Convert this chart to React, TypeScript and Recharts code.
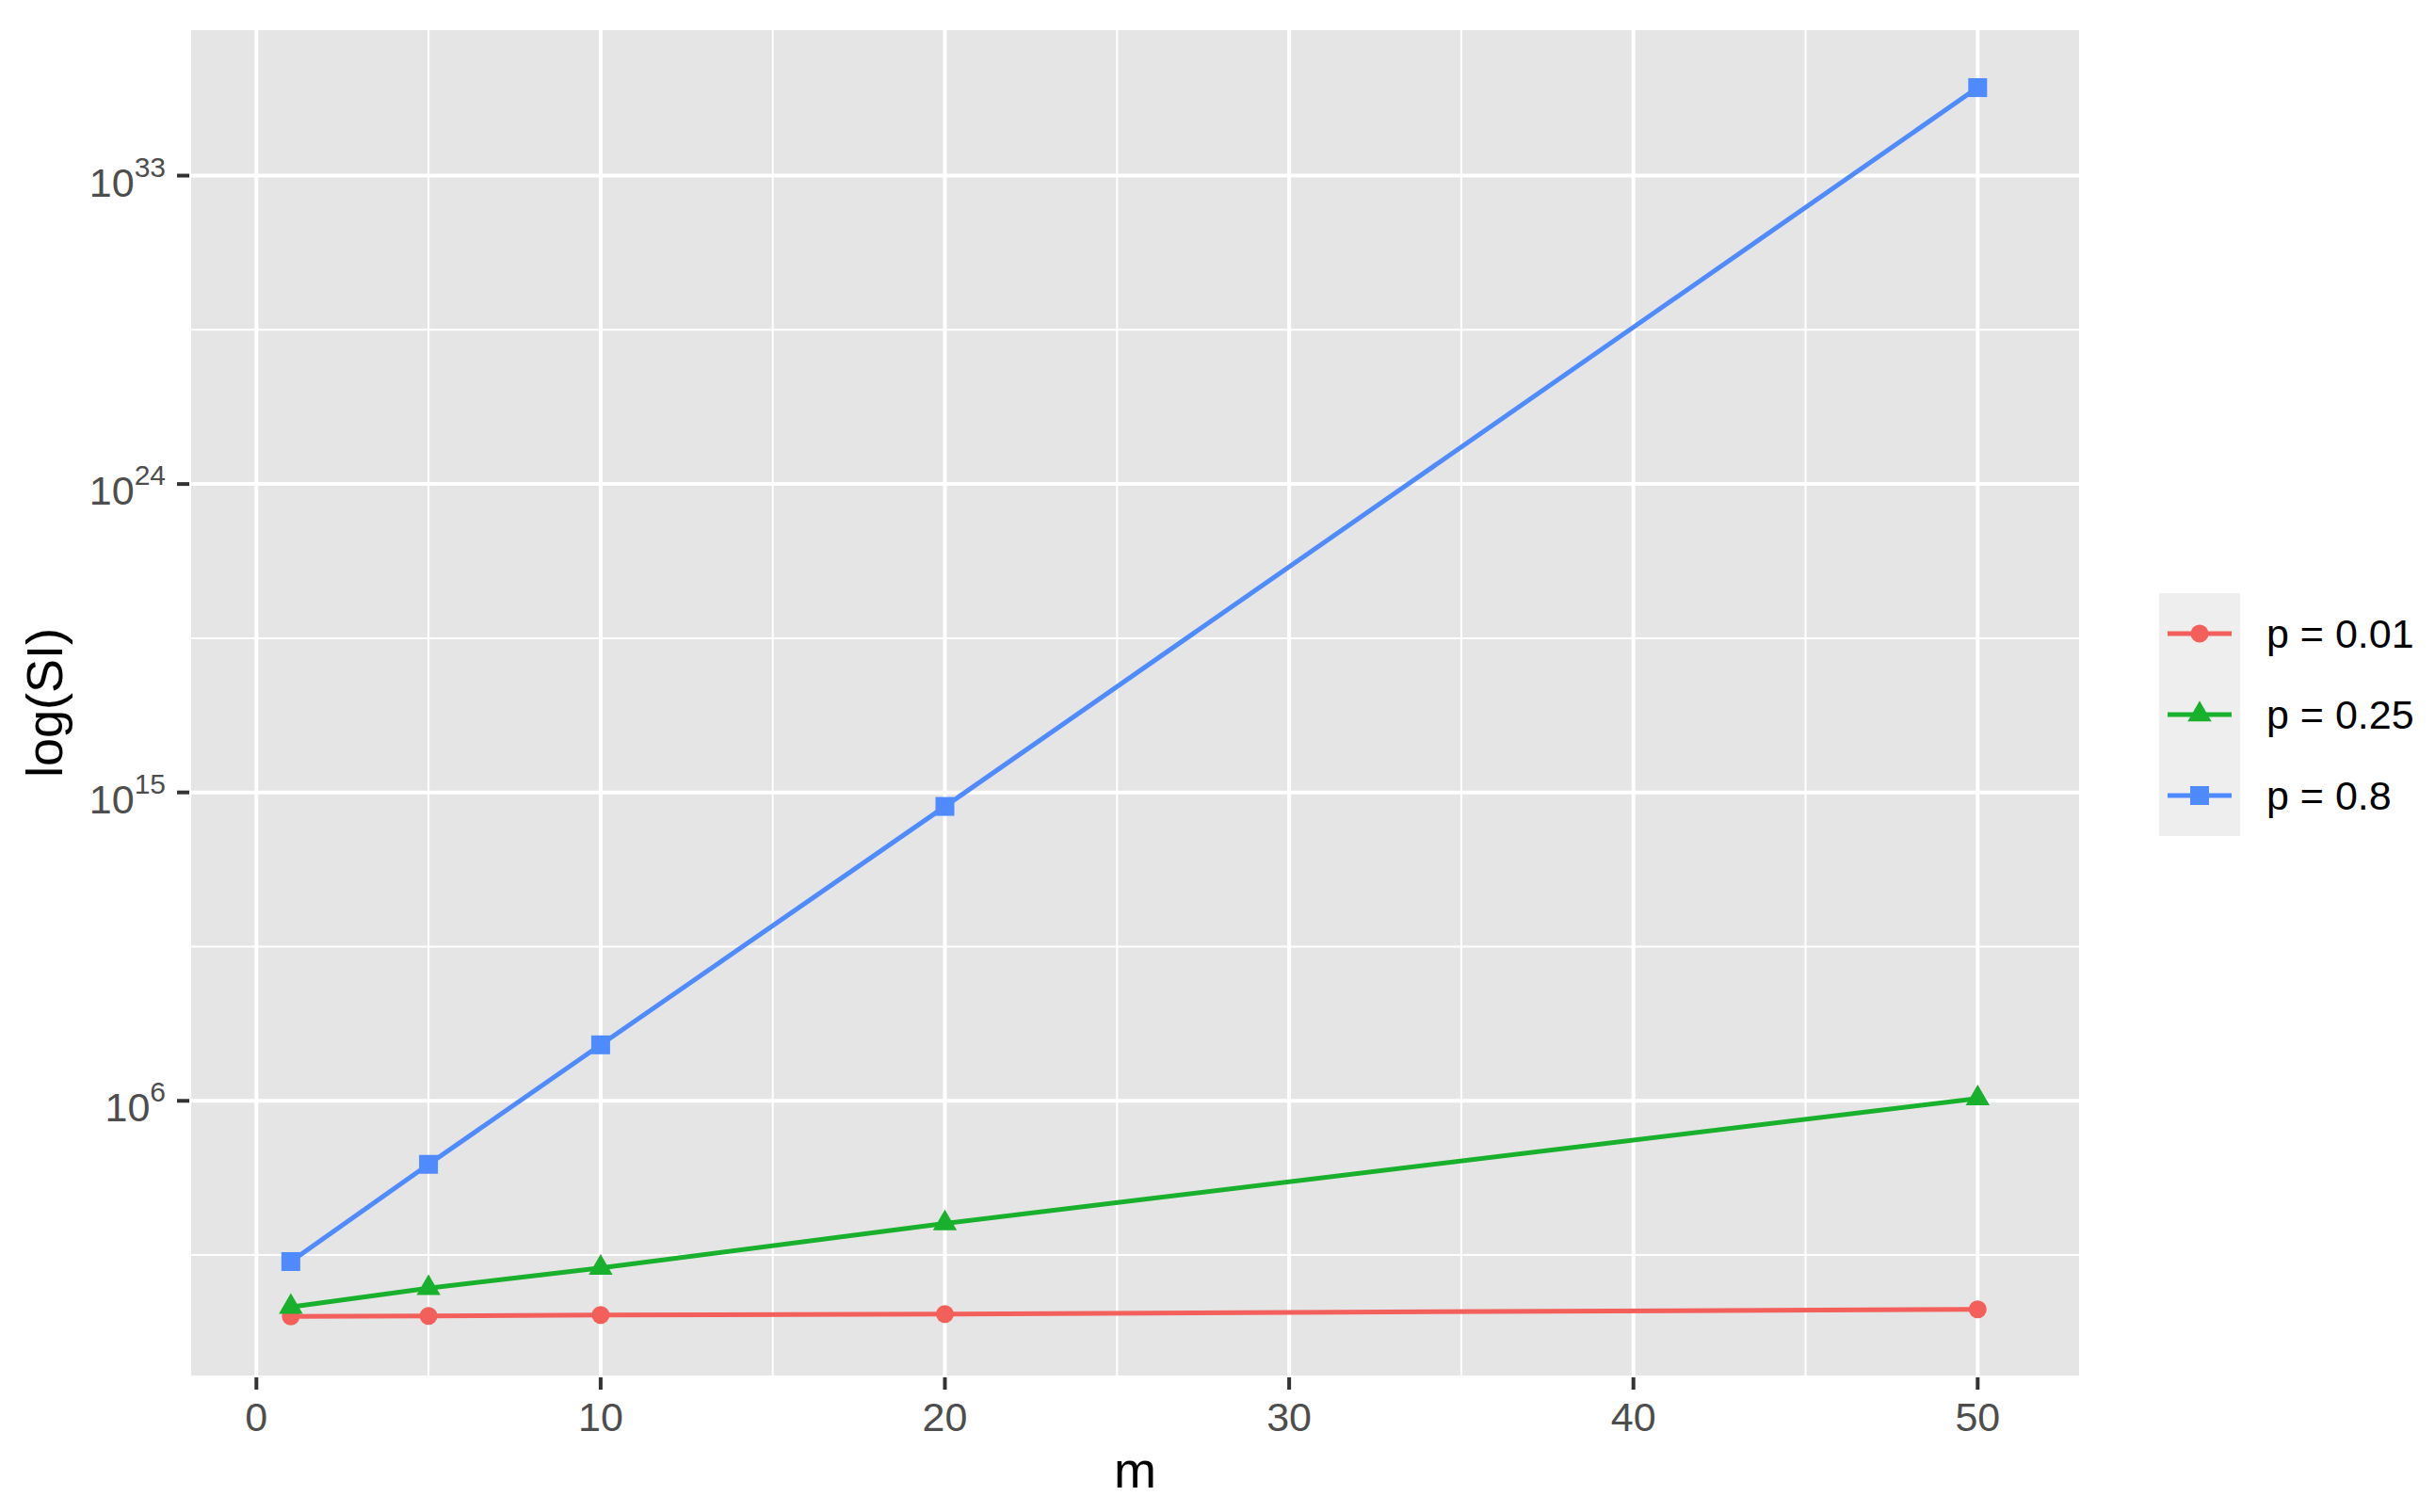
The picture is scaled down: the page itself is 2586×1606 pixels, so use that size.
import React from 'react';
import { LineChart, Line, XAxis, YAxis, CartesianGrid, ReferenceLine } from 'recharts';

const FONT = '"Liberation Sans", Arial, Helvetica, sans-serif';

// m values on the x axis
const mValues = [1, 5, 10, 20, 50];

const siP001 = [0.51, 0.53, 0.56, 0.6, 0.82];
const siP025 = [0.96, 3.4, 13.3, 265, 1.17e6];
const siP08 = [20.4, 1.4e4, 4.3e7, 3.9e14, 3.7e35];

const xTicks = [0, 10, 20, 30, 40, 50];
const xMinor = [5, 15, 25, 35, 45];
const yTicks = [1e6, 1e15, 1e24, 1e33];
const yMinor = [3.16e1, 3.16e10, 3.16e19, 3.16e28];

const seriesNames = ['p = 0.01', 'p = 0.25', 'p = 0.8'];
const seriesKeys = ['p001', 'p025', 'p08'];
const seriesColors = ['#F35F5B', '#19B02D', '#4F8AFE'];
const seriesShapes = ['circle', 'triangle', 'square'];

const data = mValues.map((m, i) => ({
  m,
  p001: siP001[i],
  p025: siP025[i],
  p08: siP08[i],
}));

function Marker({ shape, cx, cy, color }: { shape: string; cx: number; cy: number; color: string }) {
  if (shape === 'circle') return <circle cx={cx} cy={cy} r={9.5} fill={color} />;
  if (shape === 'square') return <rect x={cx - 10} y={cy - 10} width={20} height={20} fill={color} />;
  return (
    <polygon
      points={`${cx},${cy - 14.7} ${cx + 12.7},${cy + 7.3} ${cx - 12.7},${cy + 7.3}`}
      fill={color}
    />
  );
}

const makeDot = (shape: string, color: string) => (props: any) => {
  const { cx, cy, index } = props;
  if (cx == null || cy == null) return <g key={index} />;
  return <Marker key={index} shape={shape} cx={cx} cy={cy} color={color} />;
};

function PowerTick(props: any) {
  const { x, y, payload } = props;
  const exp = Math.round(Math.log10(payload.value));
  return (
    <text x={x} y={y} textAnchor="end" fill="#4D4D4D" fontFamily={FONT}>
      <tspan dy={22} fontSize={43}>10</tspan>
      <tspan dy={-21} fontSize={30}>{exp}</tspan>
    </text>
  );
}

function LegendBox() {
  return (
    <div style={{ position: 'absolute', left: 2293, top: 630, fontFamily: FONT }}>
      {seriesNames.map((name, i) => (
        <div key={name} style={{ display: 'flex', alignItems: 'center', height: 86 }}>
          <svg width={86} height={86} style={{ background: '#EEEEEE', display: 'block' }}>
            <line x1={9} x2={77} y1={43} y2={43} stroke={seriesColors[i]} strokeWidth={5} />
            <Marker shape={seriesShapes[i]} cx={43} cy={43} color={seriesColors[i]} />
          </svg>
          <span style={{ marginLeft: 28, fontSize: 43, color: '#000', whiteSpace: 'nowrap' }}>{name}</span>
        </div>
      ))}
    </div>
  );
}

export default function App() {
  return (
    <div style={{ position: 'absolute', left: 0, top: 0, width: 2586, height: 1606, background: '#fff' }}>
      <LineChart width={2586} height={1606} data={data} margin={{ top: 30, right: 376, bottom: 0, left: 0 }}>
        <CartesianGrid fill="#E5E5E5" stroke="#FFFFFF" strokeWidth={4} />
        <XAxis
          dataKey="m"
          type="number"
          domain={[-1.95, 53]}
          allowDataOverflow
          ticks={xTicks}
          interval={0}
          height={143}
          axisLine={false}
          tickLine={{ stroke: '#333333', strokeWidth: 4 }}
          tickSize={13}
          tickMargin={13}
          tick={{ fontSize: 43, fill: '#4D4D4D', fontFamily: FONT }}
          label={{ value: 'm', position: 'insideBottom', offset: 26, fontSize: 54, fill: '#000', fontFamily: FONT }}
        />
        <YAxis
          type="number"
          scale="log"
          domain={[8.5e-3, 2e37]}
          allowDataOverflow
          ticks={yTicks}
          interval={0}
          width={201}
          axisLine={false}
          tickLine={{ stroke: '#333333', strokeWidth: 4 }}
          tickSize={13}
          tickMargin={12}
          tick={<PowerTick />}
          label={{
            value: 'log(SI)',
            angle: -90,
            position: 'insideLeft',
            offset: 47,
            fontSize: 54,
            fill: '#000',
            fontFamily: FONT,
            style: { textAnchor: 'middle' },
          }}
        />
        {xMinor.map((v) => (
          <ReferenceLine key={`x${v}`} x={v} stroke="#FFFFFF" strokeWidth={2} />
        ))}
        {yMinor.map((v) => (
          <ReferenceLine key={`y${v}`} y={v} stroke="#FFFFFF" strokeWidth={2} />
        ))}
        {seriesKeys.map((k, i) => (
          <Line
            key={k}
            dataKey={k}
            name={seriesNames[i]}
            stroke={seriesColors[i]}
            strokeWidth={5}
            dot={makeDot(seriesShapes[i], seriesColors[i])}
            activeDot={false}
            isAnimationActive={false}
          />
        ))}
      </LineChart>
      <LegendBox />
    </div>
  );
}
